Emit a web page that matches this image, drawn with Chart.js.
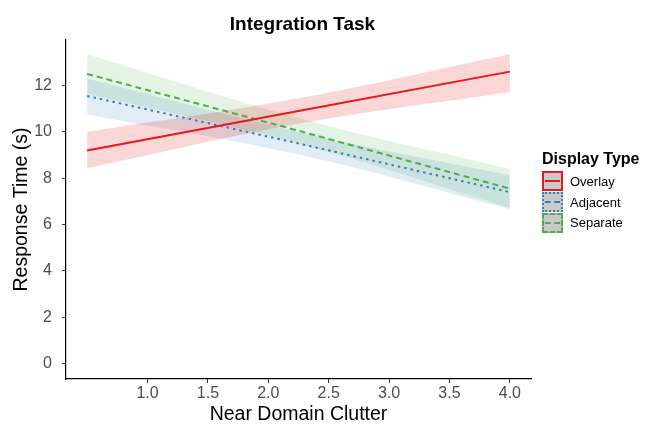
<!DOCTYPE html>
<html>
<head>
<meta charset="utf-8">
<script src="https://cdn.jsdelivr.net/npm/chart.js@4"></script>
<style>
html,body{margin:0;padding:0;background:#fff;}
#wrap{position:relative;width:649px;height:424px;}
#legend{position:absolute;left:542px;top:149px;font-family:"Liberation Sans",Arial,sans-serif;color:#000;}
.lt{font-weight:bold;font-size:16px;line-height:19px;margin-bottom:3px;white-space:nowrap;}
.it{display:flex;align-items:center;height:20.7px;}
.key{box-sizing:border-box;width:21px;height:20px;background:#c9c9c9;position:relative;border-width:2px;}
.key span{position:absolute;left:1px;right:1px;top:7px;border-top-width:2px;}
.lab{font-size:13px;margin-left:7px;white-space:nowrap;}
</style>
</head>
<body>
<div id="wrap">
<canvas id="c" width="649" height="424"></canvas>
<div id="legend"></div>
</div>
<script>
// ---- data ----
const xValues = [0.5, 2.25, 4.0];
const overlayFit  = [9.2, 10.9, 12.6];
const overlayLow  = [8.43, 10.35, 11.72];
const overlayHigh = [10.0, 11.45, 13.35];
const adjacentFit  = [11.55, 9.5, 7.4];
const adjacentLow  = [10.75, 9.02, 6.67];
const adjacentHigh = [12.3, 10.0, 8.13];
const separateFit  = [12.5, 10.05, 7.55];
const separateLow  = [11.65, 9.5, 6.72];
const separateHigh = [13.35, 10.6, 8.4];
const seriesNames = ['Overlay', 'Adjacent', 'Separate'];
const xTickValues = [1.0, 1.5, 2.0, 2.5, 3.0, 3.5, 4.0];
const yTickValues = [0, 2, 4, 6, 8, 10, 12];
const chartTitle = 'Integration Task';

const colors = ['#E41A1C', '#377EB8', '#4DAF4A'];
const bandFill = ['rgba(228,26,28,0.18)', 'rgba(55,126,184,0.15)', 'rgba(77,175,74,0.15)'];
const dashes = [[], [2.5, 4], [6, 4]];

const pts = arr => arr.map((y, i) => ({x: xValues[i], y}));
const fits = [overlayFit, adjacentFit, separateFit];
const lows = [overlayLow, adjacentLow, separateLow];
const highs = [overlayHigh, adjacentHigh, separateHigh];

const datasets = [];
for (let s = 0; s < 3; s++) {
  datasets.push({data: pts(lows[s]), borderWidth: 0, pointRadius: 0, fill: false, tension: 0.4, order: 10});
  datasets.push({data: pts(highs[s]), borderWidth: 0, pointRadius: 0, fill: '-1', backgroundColor: bandFill[s], tension: 0.4, order: 10});
}
for (let s = 0; s < 3; s++) {
  datasets.push({label: seriesNames[s], data: pts(fits[s]), borderColor: colors[s], borderWidth: 2,
    borderDash: dashes[s], pointRadius: 0, fill: false, tension: 0, order: 1});
}

const FONT = '"Liberation Sans", Arial, sans-serif';
Chart.defaults.font.family = FONT;

const titlePlugin = {
  id: 'plotTitle',
  afterDraw(chart) {
    const ctx = chart.ctx;
    ctx.save();
    ctx.font = 'bold 19px ' + FONT;
    ctx.fillStyle = '#000';
    ctx.textAlign = 'center';
    ctx.textBaseline = 'alphabetic';
    ctx.fillText(chartTitle, 302.5, 29.5);
    ctx.restore();
  }
};

new Chart(document.getElementById('c'), {
  type: 'line',
  data: {datasets},
  plugins: [titlePlugin],
  options: {
    responsive: false,
    animation: false,
    devicePixelRatio: 1,
    layout: {padding: {left: 0, right: 118, top: 40, bottom: 0}},
    plugins: {
      legend: {display: false},
      tooltip: {enabled: false},
      title: {display: false}
    },
    scales: {
      x: {
        type: 'linear', min: 0.325, max: 4.175,
        afterBuildTicks: s => { s.ticks = xTickValues.map(v => ({value: v})); },
        afterFit: s => { s.height = 45; },
        ticks: {callback: v => Number(v).toFixed(1), color: '#4d4d4d', font: {size: 16}, padding: 1, maxRotation: 0},
        grid: {drawOnChartArea: false, drawTicks: true, tickLength: 4, color: '#333'},
        border: {display: true, color: '#000', width: 1.2},
        title: {display: true, text: 'Near Domain Clutter', color: '#000', font: {size: 19.5, lineHeight: 1}, padding: {top: 0, bottom: 0}}
      },
      y: {
        type: 'linear', min: -0.665, max: 13.965,
        afterBuildTicks: s => { s.ticks = yTickValues.map(v => ({value: v})); },
        afterFit: s => { s.width = 66; },
        ticks: {color: '#4d4d4d', font: {size: 16}, padding: 10},
        grid: {drawOnChartArea: false, drawTicks: true, tickLength: 4, color: '#333'},
        border: {display: true, color: '#000', width: 1.2},
        title: {display: true, text: 'Response Time (s)', color: '#000', font: {size: 19.5, lineHeight: 1}, padding: {top: 11.5, bottom: 0}}
      }
    }
  }
});

// legend
const lg = document.getElementById('legend');
const borderStyles = ['solid', 'dotted', 'dashed'];
const innerStyles = ['solid', 'dashed', 'dashed'];
let html = '<div class="lt">Display Type</div>';
for (let s = 0; s < 3; s++) {
  html += '<div class="it"><div class="key" style="border-style:' + borderStyles[s] + ';border-color:' + colors[s] +
    '"><span style="border-top-style:' + innerStyles[s] + ';border-top-color:' + colors[s] + '"></span></div>' +
    '<div class="lab">' + seriesNames[s] + '</div></div>';
}
lg.innerHTML = html;
</script>
</body>
</html>
